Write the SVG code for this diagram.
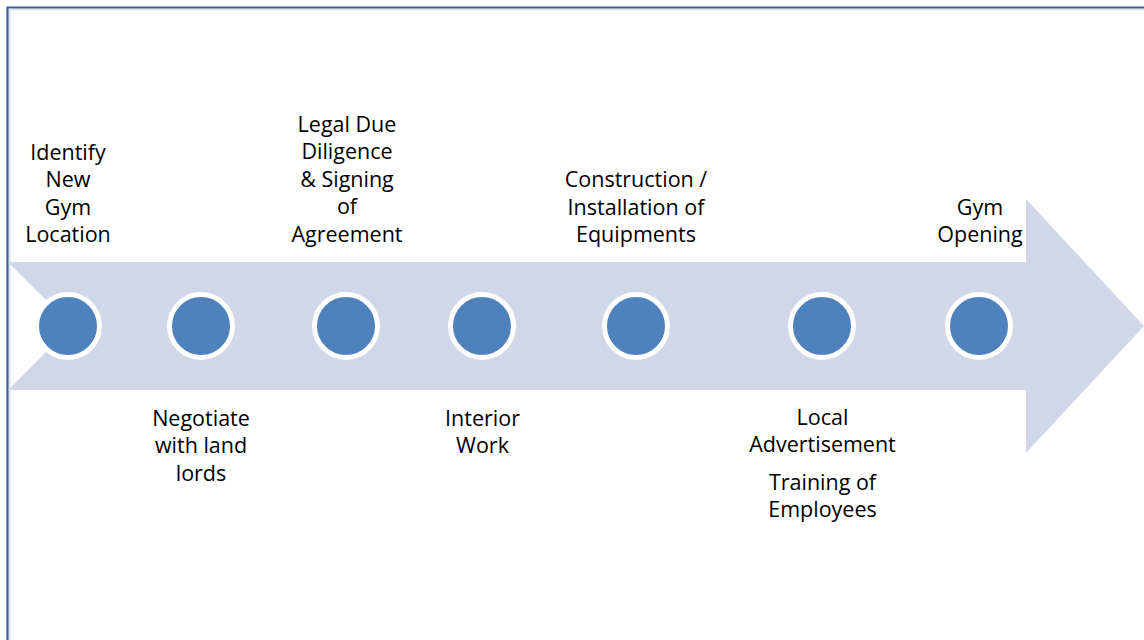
<svg xmlns="http://www.w3.org/2000/svg" width="1144" height="640" viewBox="0 0 1144 640">
<style>
.dot{fill:#4F81BD;stroke:#FFFFFF;stroke-width:5}
.lbl{font-family:"Open Sans","Noto Sans","Liberation Sans",sans-serif;font-size:21.5px;fill:#000000;text-anchor:middle}
</style>
<rect width="1144" height="640" fill="#FFFFFF"/>
<g id="frame" fill="none">
<path d="M7.5,640 V7.5 H1144" stroke="#3A5F93" stroke-width="2.2"/>
<path d="M9.8,640 V9.8 H1144" stroke="#C9D6EA" stroke-width="1"/>
</g>
<g id="connectors">
<polygon id="timeline-arrow" points="8,262 1026,262 1026,199 1144,326 1026,453 1026,390 8,390 72,326" fill="#D0D8E8"/>
</g>
<g id="step1">
<circle class="dot" cx="68" cy="326" r="31.5"/>
<text class="lbl"><tspan x="68" y="159.5">Identify</tspan><tspan x="68" y="187">New</tspan><tspan x="68" y="214.5">Gym</tspan><tspan x="68" y="242">Location</tspan></text>
</g>
<g id="step2">
<circle class="dot" cx="201" cy="326" r="31.5"/>
<text class="lbl"><tspan x="201" y="426">Negotiate</tspan><tspan x="201" y="453.3">with land</tspan><tspan x="201" y="480.5">lords</tspan></text>
</g>
<g id="step3">
<circle class="dot" cx="346" cy="326" r="31.5"/>
<text class="lbl"><tspan x="347" y="131.7">Legal Due</tspan><tspan x="347" y="159">Diligence</tspan><tspan x="347" y="186.5">&amp; Signing</tspan><tspan x="347" y="214">of</tspan><tspan x="347" y="241.5">Agreement</tspan></text>
</g>
<g id="step4">
<circle class="dot" cx="482" cy="326" r="31.5"/>
<text class="lbl"><tspan x="482.5" y="426">Interior</tspan><tspan x="482.5" y="453.3">Work</tspan></text>
</g>
<g id="step5">
<circle class="dot" cx="636" cy="326" r="31.5"/>
<text class="lbl"><tspan x="636" y="187.3">Construction /</tspan><tspan x="636" y="214.5">Installation of</tspan><tspan x="636" y="242">Equipments</tspan></text>
</g>
<g id="step6">
<circle class="dot" cx="822" cy="326" r="31.5"/>
<text class="lbl"><tspan x="822.5" y="425">Local</tspan><tspan x="822.5" y="452">Advertisement</tspan><tspan x="822.5" y="489.5">Training of</tspan><tspan x="822.5" y="517">Employees</tspan></text>
</g>
<g id="step7">
<circle class="dot" cx="979" cy="326" r="31.5"/>
<text class="lbl"><tspan x="980" y="214.5">Gym</tspan><tspan x="980" y="242">Opening</tspan></text>
</g>
</svg>
